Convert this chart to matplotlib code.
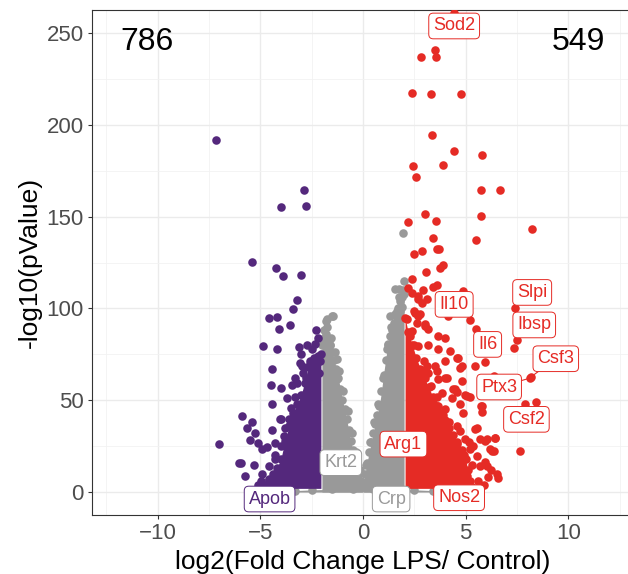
import matplotlib.pyplot as plt

plt.rcParams['font.family'] = ['Liberation Sans', 'DejaVu Sans']

PURPLE = '#54287C'
RED = '#E52B25'
GREY = '#999999'

# individually visible genes, log2 fold change and -log10 p
down_fc = [-7.14, -2.88, -4.01, -2.80, -5.43, -4.24, -3.89, -3.01, -3.20, -3.40,
           -4.57, -4.21, -4.10, -3.55, -2.28, -4.88, -4.18, -3.12, -2.75, -2.34,
           -4.44, -3.02, -2.99, -4.50, -4.00, -3.46, -3.32, -4.45, -3.69, -2.80,
           -5.89, -5.40, -5.67, -5.25, -5.50, -5.11, -6.99, -4.44, -3.97, -4.94,
           -4.70, -4.28, -4.28, -6.05, -5.95, -5.32, -5.76, -4.99, -4.57, -3.85,
           -3.59, -3.07, -2.59, -2.34, -2.10, -3.20, -2.83, -4.05, -3.59, -2.20,
           -2.50, -2.15, -4.90, -4.60, -4.30, -4.00, -3.80, -3.50, -3.30, -2.90,
           -2.70, -5.10, -4.75]
down_p = [191.8, 164.5, 155.3, 156.0, 125.4, 121.9, 117.4, 118.1, 104.5, 99.6,
          94.6, 95.3, 89.0, 91.1, 88.2, 79.7, 78.1, 79.0, 80.0, 80.4,
          66.8, 75.0, 68.6, 58.2, 56.5, 58.2, 62.3, 48.2, 51.1, 53.8,
          41.5, 38.2, 35.0, 32.1, 28.1, 26.6, 26.1, 33.9, 39.7, 23.7,
          24.3, 26.5, 20.3, 15.6, 15.6, 14.8, 8.5, 5.8, 6.5, 30.6,
          36.0, 70.5, 71.4, 71.4, 71.4, 59.6, 59.6, 39.7, 40.0, 84.0,
          78.0, 65.0, 10.0, 14.0, 18.0, 25.0, 35.0, 46.0, 52.0, 65.0,
          68.0, 4.0, 4.0]

up_fc = [4.44, 3.53, 2.83, 3.56, 2.41, 3.30, 4.77, 3.35, 4.42, 5.82,
         2.44, 3.92, 2.60, 5.74, 6.68, 3.01, 2.21, 3.55, 5.77, 8.21,
         3.43, 5.51, 2.47, 2.86, 3.59, 3.72, 3.07, 3.76, 3.92, 2.41,
         2.21, 2.94, 3.59, 3.41, 2.67, 3.11, 4.89, 2.46, 2.70, 3.02,
         3.16, 4.16, 5.22, 5.50, 3.67, 4.00, 2.29, 2.70, 3.19, 3.64,
         4.57, 5.92, 5.46, 3.51, 4.81, 2.99, 3.11, 7.41, 7.50, 7.37,
         6.36, 7.90, 8.42, 5.82, 5.82, 7.63, 4.24, 4.00, 4.65, 4.73,
         4.08, 4.40, 4.57, 4.98, 5.19, 4.73, 4.00, 4.89, 5.46, 5.68,
         6.03, 6.44, 5.14, 5.38, 6.20, 6.36, 5.71, 6.23, 6.57, 5.95,
         4.49, 5.06, 5.76, 5.54, 6.41, 5.95, 4.98, 5.22, 6.28, 5.54,
         6.03, 6.52, 5.06, 5.54, 4.57, 4.73, 3.84, 4.16, 3.43, 3.67,
         4.33, 3.67, 4.00, 3.19, 3.59, 4.81, 3.84, 8.17, 8.12, 2.37,
         2.70, 2.86, 2.54, 2.78, 2.13, 2.62, 3.02, 2.37, 4.30, 4.60,
         4.90, 5.30, 5.00, 4.70, 3.90, 3.30, 2.90, 2.50, 3.60, 4.20,
         5.60, 5.90, 6.10]
up_p = [261.0, 240.8, 236.8, 236.8, 217.4, 217.0, 216.5, 194.2, 185.9, 183.3,
        177.7, 177.9, 171.7, 164.3, 164.5, 151.5, 147.1, 147.5, 150.2, 143.5,
        138.2, 137.1, 129.7, 131.5, 132.4, 132.4, 119.7, 122.1, 123.9, 116.1,
        111.2, 110.0, 113.0, 111.4, 106.7, 104.9, 109.4, 98.5, 95.8, 91.3,
        88.6, 95.8, 93.6, 88.6, 85.0, 84.0, 85.0, 79.5, 79.9, 77.7,
        73.2, 70.8, 68.6, 68.6, 68.6, 71.4, 68.6, 100.0, 82.8, 78.3,
        63.2, 48.2, 49.1, 46.9, 43.6, 22.1, 76.8, 71.4, 73.2, 67.8,
        62.3, 56.0, 54.5, 52.9, 51.8, 48.2, 45.1, 43.3, 34.2, 28.8,
        28.8, 29.7, 27.0, 25.2, 23.4, 22.5, 14.3, 12.1, 7.4, 16.1,
        56.0, 52.4, 46.9, 35.1, 29.7, 27.9, 28.8, 23.4, 22.4, 19.7,
        14.3, 9.8, 8.9, 1.0, 36.0, 33.3, 33.3, 27.0, 48.7, 46.9,
        51.4, 61.4, 62.3, 65.0, 65.9, 60.5, 54.2, 62.6, 62.0, 108.5,
        104.9, 103.1, 97.7, 96.7, 94.0, 92.2, 90.4, 87.7, 30.0, 26.0,
        20.0, 15.0, 5.0, 10.0, 42.0, 58.0, 66.0, 80.0, 52.0, 38.0,
        6.0, 4.0, 8.0]

ns_fc = [-1.82, -1.48, -1.53, -1.77, -1.69, -1.61, -1.72, -1.69, -1.28, -1.25,
         1.97, 1.98, 1.56, 1.89, 1.64, 1.56, 1.48, 1.72, 1.23, 1.77,
         1.80, 1.32, -1.90, -1.75, -1.55, -1.35, -1.15, -0.95, -0.75, -0.55,
         -0.35, -0.15, 0.15, 0.35, 0.55, 0.75, 0.95, 1.15, 1.35, 1.55,
         1.75, 1.95]
ns_p = [92.9, 95.8, 96.0, 94.0, 82.6, 79.9, 81.4, 69.6, 61.4, 72.3,
        140.8, 114.8, 110.3, 100.9, 98.5, 91.3, 86.8, 85.9, 80.4, 110.7,
        98.5, 95.8, 88.0, 90.0, 84.0, 76.0, 66.0, 55.0, 44.0, 32.0,
        22.0, 12.0, 15.0, 27.0, 38.0, 48.0, 62.0, 78.0, 90.0, 97.0,
        106.0, 110.0]

# upper edge of the packed clouds of points
ns_left_fc = [-2.0, -1.9, -1.8, -1.7, -1.6, -1.5, -1.4, -1.3, -1.2, -1.1,
              -1.0, -0.9, -0.8, -0.7, -0.6, -0.5, -0.4, -0.3, -0.2, -0.1, -0.03]
ns_left_p = [80, 84, 86, 82, 80, 76, 72, 67, 62, 56,
             50, 45, 40, 34, 28, 23, 19, 14, 10, 6, 3]
ns_right_fc = [0.03, 0.1, 0.2, 0.3, 0.4, 0.5, 0.6, 0.7, 0.8, 0.9,
               1.0, 1.1, 1.2, 1.3, 1.4, 1.5, 1.6, 1.7, 1.8, 1.9, 2.0]
ns_right_p = [4, 10, 16, 22, 27, 32, 37, 42, 47, 55,
              64, 72, 80, 85, 88, 92, 96, 100, 104, 106, 108]
ns_base_fc = [-3.3, -2.5, -1.5, -0.5, 0.5, 1.5, 2.5, 3.4]
ns_base_p = [0.8, 1.2, 1.5, 1.5, 1.5, 1.5, 1.2, 0.8]

down_edge_fc = [-4.8, -4.6, -4.4, -4.2, -4.0, -3.8, -3.6, -3.4, -3.2, -3.0,
                -2.8, -2.6, -2.4, -2.2, -2.05]
down_edge_p = [3, 7, 10, 13, 18, 28, 36, 43, 48, 53,
               62, 70, 73, 74, 75]
up_edge_fc = [2.05, 2.2, 2.4, 2.6, 2.8, 3.0, 3.2, 3.4, 3.6, 3.8,
              4.0, 4.2, 4.4, 4.6, 4.8, 5.0, 5.1, 5.2, 5.3]
up_edge_p = [95, 87, 80, 73, 67, 62, 57, 52, 47, 43,
             39, 35, 31, 27, 23, 18, 12, 6, 3]

# labelled genes: name, colour group, label box centre
label_gene = ['Sod2', 'Il10', 'Slpi', 'Ibsp', 'Il6', 'Csf3', 'Ptx3', 'Csf2',
              'Arg1', 'Krt2', 'Crp', 'Nos2', 'Apob']
label_group = ['up', 'up', 'up', 'up', 'up', 'up', 'up', 'up',
               'up', 'ns', 'ns', 'up', 'down']
label_pos = [(4.44, 253.8), (4.44, 102.2), (8.24, 108.7), (8.34, 91.0),
             (6.07, 80.4), (9.39, 72.6), (6.63, 57.2), (7.96, 39.6),
             (1.97, 26.1), (-1.08, 16.0), (1.37, -3.8), (4.68, -3.1),
             (-4.55, -3.8)]
segment_gene = ['Csf3', 'Ptx3']
segment_to = [(8.17, 62.6), (8.12, 62.0)]

colours = {'down': PURPLE, 'up': RED, 'ns': GREY}

fig = plt.figure(figsize=(6.28, 5.74), dpi=100)
ax = fig.add_axes([92 / 628, 59 / 574, 542 / 628, 505 / 574])

pt = dict(s=38, linewidths=0)

# not significant: flat base plus the two wings of the volcano
ax.fill_between(ns_base_fc, 0, ns_base_p, color=GREY, lw=0, zorder=2)
ax.scatter(ns_base_fc, ns_base_p, color=GREY, zorder=2, **pt)
ax.fill_between(ns_left_fc, 0, ns_left_p, color=GREY, lw=0, zorder=2)
ax.scatter(ns_left_fc, ns_left_p, color=GREY, zorder=2, **pt)
ax.fill_between(ns_right_fc, 0, ns_right_p, color=GREY, lw=0, zorder=2)
ax.scatter(ns_right_fc, ns_right_p, color=GREY, zorder=2, **pt)
ax.scatter(ns_fc, ns_p, color=GREY, zorder=2, **pt)

ax.fill_between(down_edge_fc, 2, down_edge_p, color=PURPLE, lw=0, zorder=3)
ax.scatter(down_edge_fc, down_edge_p, color=PURPLE, zorder=3, **pt)
ax.scatter(down_fc, down_p, color=PURPLE, zorder=3, **pt)

ax.fill_between(up_edge_fc, 2, up_edge_p, color=RED, lw=0, zorder=3)
ax.scatter(up_edge_fc, up_edge_p, color=RED, zorder=3, **pt)
ax.scatter(up_fc, up_p, color=RED, zorder=3, **pt)

# repelled labels
for gene, end in zip(segment_gene, segment_to):
    i = label_gene.index(gene)
    c = colours[label_group[i]]
    ax.plot([label_pos[i][0], end[0]], [label_pos[i][1], end[1]],
            color=c, lw=0.8, zorder=4)
for gene, grp, (lx, ly) in zip(label_gene, label_group, label_pos):
    c = colours[grp]
    ax.text(lx, ly, gene, color=c, fontsize=13, ha='center', va='center',
            zorder=5,
            bbox=dict(boxstyle='round,pad=0.24,rounding_size=0.25',
                      facecolor='white', edgecolor=c, linewidth=0.7))

ax.text(-10.5, 245, '786', fontsize=23, ha='center', va='center', zorder=5)
ax.text(10.5, 245, '549', fontsize=23, ha='center', va='center', zorder=5)

ax.set_xlim(-13.2, 13.2)
ax.set_ylim(-12.5, 262.5)
ax.set_xticks([-10, -5, 0, 5, 10])
ax.set_yticks([0, 50, 100, 150, 200, 250])
ax.set_xticks([-12.5, -7.5, -2.5, 2.5, 7.5, 12.5], minor=True)
ax.set_yticks([25, 75, 125, 175, 225], minor=True)
ax.grid(which='major', color='#EBEBEB', lw=1.0, zorder=0)
ax.grid(which='minor', color='#F2F2F2', lw=0.6, zorder=0)
ax.set_axisbelow(True)
ax.tick_params(which='major', length=3, width=0.8, color='#333333',
               labelsize=16, labelcolor='#4D4D4D', pad=3)
ax.tick_params(which='minor', length=0)
for sp in ax.spines.values():
    sp.set_color('#333333')
    sp.set_linewidth(0.8)

ax.set_xlabel('log2(Fold Change LPS/ Control)', fontsize=19, labelpad=4)
ax.set_ylabel('-log10(pValue)', fontsize=19, labelpad=3)

fig.savefig('out.png', dpi=100)
